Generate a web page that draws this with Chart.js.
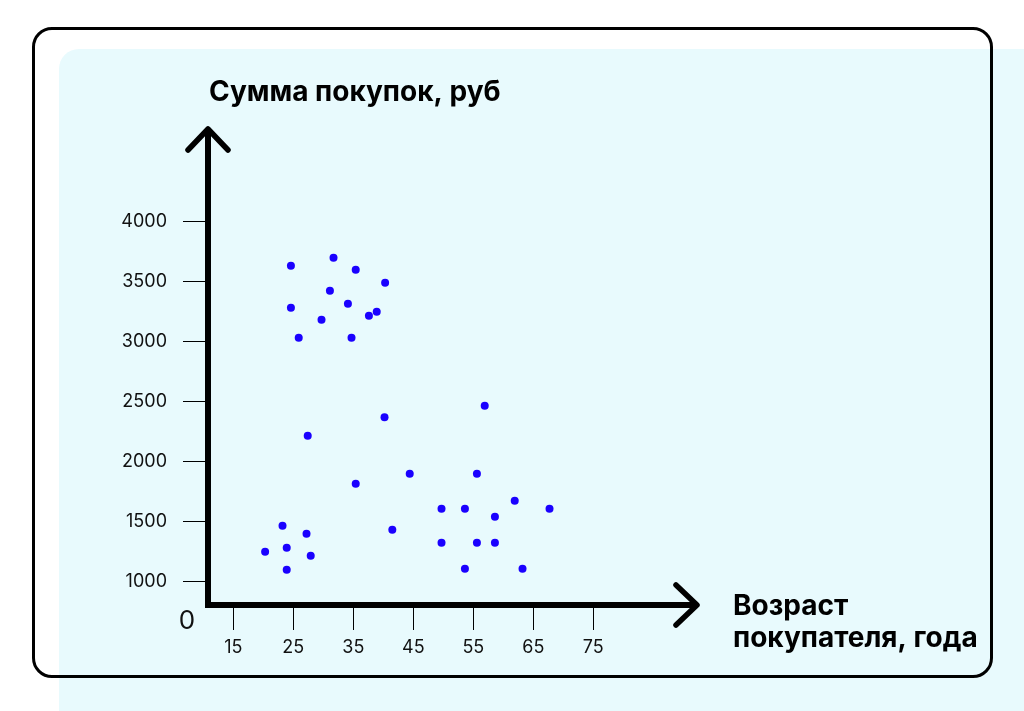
<!DOCTYPE html>
<html>
<head>
<meta charset="utf-8">
<script src="https://cdn.jsdelivr.net/npm/chart.js@4.4.1/dist/chart.umd.min.js"></script>
<style>
  html, body { margin: 0; padding: 0; background: #fff; overflow: hidden; }
  .panel {
    position: absolute; left: 59px; top: 49px; right: 0; bottom: 0;
    background: #e8fafd; border-top-left-radius: 20px;
  }
  .frame {
    position: absolute; left: 32px; top: 27px; width: 961px; height: 651px;
    box-sizing: border-box; border: 3px solid #000; border-radius: 20px;
  }
  #chart { position: absolute; left: 0; top: 0; }
</style>
</head>
<body>
<div class="panel"></div>
<div class="frame"></div>
<canvas id="chart" width="1024" height="711"></canvas>
<script>
// ages (x) and purchase sums (y)
const ages = [24.6, 31.7, 35.4, 40.3, 31.1, 24.6, 34.1, 38.9, 37.6, 29.7, 25.9, 34.7,
  27.4, 40.2, 35.4, 41.5, 23.2, 27.2, 20.3, 23.9, 27.9, 23.9,
  56.9, 44.4, 55.6, 61.9, 49.7, 53.6, 67.7, 58.6, 49.7, 55.6, 58.6, 53.6, 63.2];
const sums = [3630, 3697, 3597, 3488, 3422, 3280, 3313, 3247, 3213, 3180, 3030, 3030,
  2213, 2367, 1813, 1430, 1463, 1397, 1247, 1280, 1213, 1097,
  2463, 1897, 1897, 1672, 1605, 1605, 1605, 1538, 1322, 1322, 1322, 1105, 1105];

const xTicks = [15, 25, 35, 45, 55, 65, 75];
const yTicks = [1000, 1500, 2000, 2500, 3000, 3500, 4000];

const yTitle = 'Сумма покупок, руб';
const xTitle = ['Возраст', 'покупателя, года'];
const originLabel = '0';

Chart.defaults.font.family = 'Inter';
Chart.defaults.color = '#111';

// axes with arrow heads, origin label and axis titles
const axesPlugin = {
  id: 'axes',
  afterDraw(chart) {
    const { ctx, chartArea: a } = chart;
    ctx.save();
    ctx.strokeStyle = '#000';
    ctx.lineWidth = 6;
    ctx.lineJoin = 'miter';
    ctx.lineCap = 'butt';
    ctx.beginPath();
    ctx.moveTo(a.left, a.top);
    ctx.lineTo(a.left, a.bottom);
    ctx.lineTo(a.right, a.bottom);
    ctx.stroke();

    ctx.lineCap = 'round';
    ctx.lineJoin = 'round';
    ctx.lineWidth = 5.5;
    ctx.beginPath();
    ctx.moveTo(a.left - 20, a.top + 21);
    ctx.lineTo(a.left, a.top);
    ctx.lineTo(a.left + 20, a.top + 21);
    ctx.stroke();
    ctx.beginPath();
    ctx.moveTo(a.right - 21, a.bottom - 20);
    ctx.lineTo(a.right, a.bottom);
    ctx.lineTo(a.right - 21, a.bottom + 20);
    ctx.stroke();

    ctx.fillStyle = '#111';
    ctx.font = '26px Inter';
    ctx.textAlign = 'center';
    ctx.textBaseline = 'middle';
    ctx.fillText(originLabel, a.left - 21, a.bottom + 16);

    ctx.fillStyle = '#000';
    ctx.font = 'bold 28px Inter';
    ctx.textAlign = 'left';
    ctx.textBaseline = 'alphabetic';
    ctx.fillText(yTitle, a.left + 1, a.top - 28);
    ctx.fillText(xTitle[0], a.right + 36, a.bottom + 10);
    ctx.fillText(xTitle[1], a.right + 36, a.bottom + 42);
    ctx.restore();
  }
};

new Chart(document.getElementById('chart'), {
  type: 'scatter',
  data: {
    datasets: [{
      data: ages.map((a, i) => ({ x: a, y: sums[i] })),
      backgroundColor: '#1a00ff',
      borderWidth: 0,
      pointRadius: 4,
    }],
  },
  options: {
    responsive: false,
    animation: false,
    layout: { padding: { left: 88, right: 327, top: 129, bottom: 46 } },
    plugins: { legend: { display: false }, tooltip: { enabled: false } },
    scales: {
      x: {
        type: 'linear',
        min: 10.78,
        max: 92.28,
        afterBuildTicks: s => { s.ticks = xTicks.map(v => ({ value: v })); },
        afterFit: s => { s.height = 60; },
        border: { display: false },
        grid: { drawOnChartArea: false, drawTicks: true, tickLength: 25, color: '#000', lineWidth: 1 },
        ticks: { padding: 7, font: { size: 18 }, maxRotation: 0, callback: v => String(v) },
      },
      y: {
        type: 'linear',
        min: 802.5,
        max: 4769,
        afterBuildTicks: s => { s.ticks = yTicks.map(v => ({ value: v })); },
        afterFit: s => { s.width = 120; },
        border: { display: false },
        grid: { drawOnChartArea: false, drawTicks: true, tickLength: 25, color: '#000', lineWidth: 1 },
        ticks: { padding: 16, font: { size: 18 }, callback: v => String(v) },
      },
    },
  },
  plugins: [axesPlugin],
});
</script>
</body>
</html>
